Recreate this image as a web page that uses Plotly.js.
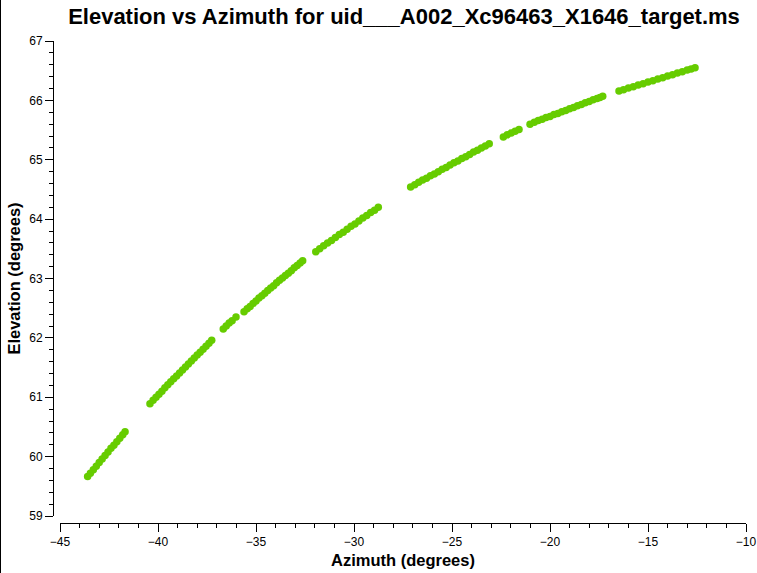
<!DOCTYPE html>
<html>
<head>
<meta charset="utf-8">
<script src="https://cdn.plot.ly/plotly-3.0.1.min.js"></script>
<style>
  body { margin: 0; background: #fff; }
  #wrap { position: relative; width: 757px; height: 573px; }
  #edge { position: absolute; left: 0; top: 0; width: 1px; height: 573px; background: #000; }
</style>
</head>
<body>
<div id="wrap">
  <div id="plot"></div>
  <div id="edge"></div>
</div>
<script>
// azimuth / elevation samples, one line per scan
const azimuth = [
  -43.59, -43.45, -43.30, -43.15, -43.00, -42.85, -42.70, -42.55, -42.40, -42.25, -42.10, -41.95, -41.80, -41.68,
  -40.41, -40.25, -40.10, -39.95, -39.80, -39.65, -39.50, -39.35, -39.20, -39.05, -38.90, -38.75, -38.60, -38.45, -38.30, -38.15, -38.00, -37.85, -37.70, -37.55, -37.40, -37.26,
  -36.67, -36.52, -36.37, -36.22, -36.02,
  -35.61, -35.45, -35.30, -35.15, -35.00, -34.85, -34.70, -34.55, -34.40, -34.25, -34.10, -33.95, -33.80, -33.65, -33.50, -33.35, -33.20, -33.05, -32.90, -32.75, -32.62,
  -31.95, -31.75, -31.55, -31.35, -31.15, -30.95, -30.75, -30.55, -30.35, -30.15, -29.95, -29.75, -29.55, -29.35, -29.15, -28.95, -28.76,
  -27.11, -26.90, -26.70, -26.50, -26.30, -26.10, -25.90, -25.70, -25.50, -25.30, -25.10, -24.90, -24.70, -24.50, -24.30, -24.10, -23.90, -23.70, -23.50, -23.30, -23.10,
  -22.38, -22.18, -21.98, -21.78, -21.58,
  -21.02, -20.80, -20.60, -20.40, -20.20, -20.00, -19.80, -19.60, -19.40, -19.20, -19.00, -18.80, -18.60, -18.40, -18.20, -18.00, -17.80, -17.60, -17.45, -17.31,
  -16.48, -16.25, -16.00, -15.75, -15.50, -15.25, -15.00, -14.75, -14.50, -14.25, -14.00, -13.75, -13.50, -13.25, -13.00, -12.80, -12.60
];
const elevation = [
  59.665, 59.72, 59.78, 59.84, 59.90, 59.96, 60.02, 60.08, 60.14, 60.19, 60.25, 60.31, 60.37, 60.42,
  60.89, 60.95, 61.00, 61.05, 61.10, 61.16, 61.21, 61.26, 61.31, 61.36, 61.41, 61.46, 61.51, 61.56, 61.61, 61.66, 61.71, 61.76, 61.81, 61.86, 61.91, 61.96,
  62.15, 62.20, 62.25, 62.29, 62.35,
  62.44, 62.49, 62.53, 62.58, 62.62, 62.67, 62.71, 62.75, 62.80, 62.84, 62.88, 62.93, 62.97, 63.01, 63.05, 63.09, 63.13, 63.18, 63.22, 63.26, 63.30,
  63.45, 63.50, 63.55, 63.60, 63.64, 63.69, 63.74, 63.78, 63.83, 63.88, 63.92, 63.97, 64.02, 64.06, 64.11, 64.15, 64.20,
  64.54, 64.58, 64.62, 64.66, 64.69, 64.73, 64.76, 64.80, 64.84, 64.87, 64.91, 64.95, 64.98, 65.02, 65.05, 65.09, 65.13, 65.16, 65.20, 65.23, 65.27,
  65.385, 65.42, 65.45, 65.48, 65.51,
  65.60, 65.63, 65.66, 65.68, 65.71, 65.73, 65.76, 65.78, 65.81, 65.83, 65.86, 65.88, 65.91, 65.93, 65.96, 65.98, 66.01, 66.03, 66.05, 66.07,
  66.16, 66.18, 66.21, 66.23, 66.26, 66.28, 66.31, 66.33, 66.36, 66.38, 66.41, 66.43, 66.46, 66.48, 66.51, 66.53, 66.55
];

const titleText = 'Elevation vs Azimuth for uid___A002_Xc96463_X1646_target.ms';
const xRange = [-45, -10];
const yRange = [59, 67];

const font = 'Liberation Sans, Arial, sans-serif';

var trace = {
  x: azimuth,
  y: elevation,
  type: 'scatter',
  mode: 'markers',
  marker: {size: 7.5, color: '#66cc00'},
  hoverinfo: 'x+y'
};

var layout = {
  width: 757,
  height: 573,
  margin: {l: 53, r: 11, t: 41, b: 50},
  paper_bgcolor: '#fff',
  plot_bgcolor: '#fff',
  showlegend: false,
  font: {family: font, color: '#000', size: 12},
  title: {
    text: titleText,
    font: {family: font, size: 22, color: '#000', weight: 'bold'},
    xref: 'paper', x: 0.5065, xanchor: 'center',
    yref: 'container', y: 1 - 16 / 573, yanchor: 'middle'
  },
  xaxis: {
    range: xRange,
    domain: [7 / 693, 1],
    anchor: 'free', position: 0,
    showgrid: false, zeroline: false,
    showline: true, linecolor: '#000', linewidth: 1,
    ticks: 'outside', ticklen: 8, tickcolor: '#000', tickwidth: 1,
    dtick: 5, tick0: -45,
    minor: {dtick: 1, ticks: 'outside', ticklen: 4, tickcolor: '#000', showgrid: false},
    tickfont: {family: font, size: 12, color: '#000'},
    title: {text: 'Azimuth (degrees)', font: {family: font, size: 16.5, color: '#000', weight: 'bold'}, standoff: 6}
  },
  yaxis: {
    range: yRange,
    domain: [7 / 482, 1],
    anchor: 'free', position: 0,
    showgrid: false, zeroline: false,
    showline: true, linecolor: '#000', linewidth: 1,
    ticks: 'outside', ticklen: 8, tickcolor: '#000', tickwidth: 1,
    dtick: 1, tick0: 59,
    minor: {dtick: 0.2, ticks: 'outside', ticklen: 4, tickcolor: '#000', showgrid: false},
    tickfont: {family: font, size: 12, color: '#000'},
    title: {text: 'Elevation (degrees)', font: {family: font, size: 16.5, color: '#000', weight: 'bold'}, standoff: 3}
  }
};

Plotly.newPlot('plot', [trace], layout, {displayModeBar: false, staticPlot: true});
</script>
</body>
</html>
